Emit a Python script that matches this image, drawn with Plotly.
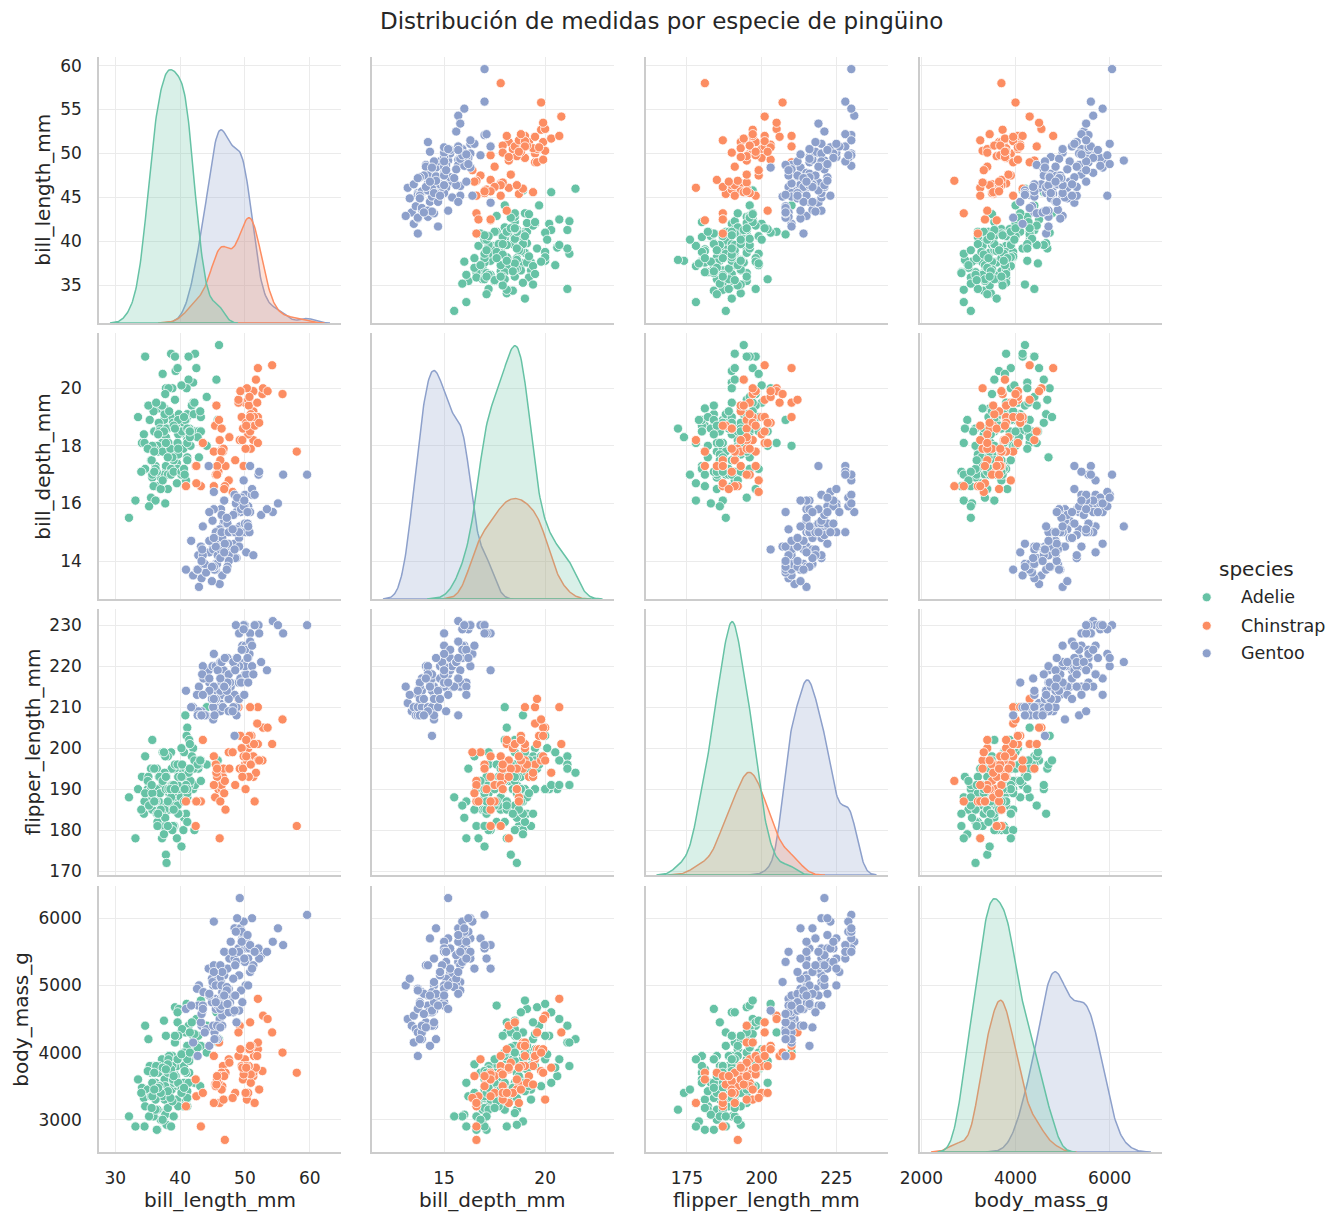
import numpy as np
import plotly.graph_objects as go

# ---------------- data (Palmer penguins, rows with complete measurements) ----------------
species = ["Adelie", "Chinstrap", "Gentoo"]
variables = ["bill_length_mm", "bill_depth_mm", "flipper_length_mm", "body_mass_g"]

adelie_bill_length = [
    39.1, 39.5, 40.3, 36.7, 39.3, 38.9, 39.2, 34.1, 42.0, 37.8, 37.8, 41.1, 38.6, 34.6, 36.6, 38.7, 42.5, 34.4, 46.0,
    37.8, 37.7, 35.9, 38.2, 38.8, 35.3, 40.6, 40.5, 37.9, 40.5,
    39.5, 37.2, 39.5, 40.9, 36.4, 39.2, 38.8, 42.2, 37.6, 39.8, 36.5, 40.8, 36.0, 44.1, 37.0, 39.6, 41.1, 37.5, 36.0, 42.3,
    39.6, 40.1, 35.0, 42.0, 34.5, 41.4, 39.0, 40.6, 36.5, 37.6, 35.7, 41.3, 37.6, 41.1, 36.4, 41.6, 35.5, 41.1,
    35.9, 41.8, 33.5, 39.7, 39.6, 45.8, 35.5, 42.8, 40.9, 37.2, 36.2, 42.1, 34.6, 42.9, 36.7, 35.1,
    37.3, 41.3, 36.3, 36.9, 38.3, 38.9, 35.7, 41.1, 34.0, 39.6, 36.2, 40.8, 38.1, 40.3, 33.1, 43.2,
    35.0, 41.0, 37.7, 37.8, 37.9, 39.7, 38.6, 38.2, 38.1, 43.2, 38.1, 45.6, 39.7, 42.2, 39.6, 42.7,
    38.6, 37.3, 35.7, 41.1, 36.2, 37.7, 40.2, 41.4, 35.2, 40.6, 38.8, 41.5, 39.0, 44.1, 38.5, 43.1,
    36.8, 37.5, 38.1, 41.1, 35.6, 40.2, 37.0, 39.7, 40.2, 40.6, 32.1, 40.7, 37.3, 39.0, 39.2, 36.6, 36.0, 37.8, 36.0, 41.5,
]
adelie_bill_depth = [
    18.7, 17.4, 18.0, 19.3, 20.6, 17.8, 19.6, 18.1, 20.2, 17.1, 17.3, 17.6, 21.2, 21.1, 17.8, 19.0, 20.7, 18.4, 21.5,
    18.3, 18.7, 19.2, 18.1, 17.2, 18.9, 18.6, 17.9, 18.6, 18.9,
    16.7, 18.1, 17.8, 18.9, 17.0, 21.1, 20.0, 18.5, 19.3, 19.1, 18.0, 18.4, 18.5, 19.7, 16.9, 18.8, 19.0, 18.9, 17.9, 21.2,
    17.7, 18.9, 17.9, 19.5, 18.1, 18.6, 17.5, 18.8, 16.6, 19.1, 16.9, 21.1, 17.0, 18.2, 17.1, 18.0, 16.2, 19.1,
    16.6, 19.4, 19.0, 18.4, 17.2, 18.9, 17.5, 18.5, 16.8, 19.4, 16.1, 19.1, 17.2, 17.6, 18.8, 19.4,
    17.8, 20.3, 19.5, 18.6, 19.2, 18.8, 18.0, 18.1, 17.1, 18.1, 17.3, 18.9, 18.6, 18.5, 16.1, 18.5,
    17.9, 20.0, 16.0, 20.0, 18.6, 18.9, 17.2, 20.0, 17.0, 19.0, 16.5, 20.3, 17.7, 19.5, 20.7, 18.3,
    17.0, 20.5, 17.0, 18.6, 17.2, 19.8, 17.0, 18.5, 15.9, 19.0, 17.6, 18.3, 17.1, 18.0, 17.9, 19.2,
    18.5, 18.5, 17.6, 17.5, 17.5, 20.1, 16.5, 17.9, 17.1, 17.2, 15.5, 17.0, 16.8, 18.7, 18.6, 18.4, 17.8, 18.1, 17.1, 18.5,
]
adelie_flipper_length = [
    181, 186, 195, 193, 190, 181, 195, 193, 190, 186, 180, 182, 191, 198, 185, 195, 197, 184, 194,
    174, 180, 189, 185, 180, 187, 183, 187, 172, 180,
    178, 178, 188, 184, 195, 196, 190, 180, 181, 184, 182, 195, 186, 196, 185, 190, 182, 179, 190, 191,
    186, 188, 190, 200, 187, 191, 186, 193, 181, 194, 185, 195, 185, 192, 184, 192, 195, 188,
    190, 198, 190, 190, 196, 197, 190, 195, 191, 184, 187, 195, 189, 196, 187, 193,
    191, 194, 190, 189, 189, 190, 202, 205, 185, 186, 187, 208, 190, 196, 178, 192,
    192, 203, 183, 190, 193, 184, 199, 190, 181, 197, 198, 191, 193, 197, 191, 196,
    188, 199, 189, 189, 187, 198, 176, 202, 186, 199, 191, 195, 191, 210, 190, 197,
    193, 199, 187, 190, 191, 200, 185, 193, 193, 187, 188, 190, 192, 185, 190, 184, 195, 193, 187, 201,
]
adelie_body_mass = [
    3750, 3800, 3250, 3450, 3650, 3625, 4675, 3475, 4250, 3300, 3700, 3200, 3800, 4400, 3700, 3450, 4500, 3325, 4200,
    3400, 3600, 3800, 3950, 3800, 3800, 3550, 3200, 3150, 3950,
    3250, 3900, 3300, 3900, 3325, 4150, 3950, 3550, 3300, 4650, 3150, 3900, 3100, 4400, 3000, 4600, 3425, 2975, 3450, 4150,
    3500, 4300, 3450, 4050, 2900, 3700, 3550, 3800, 2850, 3750, 3150, 4400, 3600, 4050, 2850, 3950, 3350, 4100,
    3050, 4450, 3600, 3900, 3550, 4150, 3700, 4250, 3700, 3900, 3550, 4000, 3200, 4700, 3800, 4200,
    3350, 3550, 3800, 3500, 3950, 3600, 3550, 4300, 3400, 4450, 3300, 4300, 3700, 4350, 2900, 4100,
    3725, 4725, 3075, 4250, 2925, 3550, 3750, 3900, 3175, 4775, 3825, 4600, 3200, 4275, 3900, 4075,
    2900, 3775, 3350, 3325, 3150, 3500, 3450, 3875, 3050, 4000, 3275, 4300, 3050, 4000, 3325, 3500,
    3500, 4475, 3425, 3900, 3175, 3975, 3400, 4250, 3400, 3475, 3050, 3725, 3000, 3650, 4250, 3475, 3450, 3750, 3700, 4000,
]

chinstrap_bill_length = [
    46.5, 50.0, 51.3, 45.4, 52.7, 45.2, 46.1, 51.3, 46.0, 51.3, 46.6, 51.7, 47.0, 52.0, 45.9, 50.5, 50.3, 58.0, 46.4, 49.2,
    42.4, 48.5, 43.2, 50.6, 46.7, 52.0, 50.5, 49.5, 46.4, 52.8, 40.9, 54.2, 42.5, 51.0, 49.7, 47.5, 47.6, 52.0, 46.9, 53.5,
    49.0, 46.2, 50.9, 45.5, 50.9, 50.8, 50.1, 49.0, 51.5, 49.8, 48.1, 51.4, 45.7, 50.7, 42.5, 52.2, 45.2, 49.3, 50.2, 45.6,
    51.9, 46.8, 45.7, 55.8, 43.5, 49.6, 50.8, 50.2,
]
chinstrap_bill_depth = [
    17.9, 19.5, 19.2, 18.7, 19.8, 17.8, 18.2, 18.2, 18.9, 19.9, 17.8, 20.3, 17.3, 18.1, 17.1, 19.6, 20.0, 17.8, 18.6, 18.2,
    17.3, 17.5, 16.6, 19.4, 17.9, 19.0, 18.4, 19.0, 17.8, 20.0, 16.6, 20.8, 16.7, 18.8, 18.6, 16.8, 18.3, 20.7, 16.6, 19.9,
    19.5, 17.5, 19.1, 17.0, 17.9, 18.5, 17.9, 19.6, 18.7, 17.3, 16.4, 19.0, 17.3, 19.7, 17.3, 18.8, 16.6, 19.9, 18.8, 19.4,
    19.5, 16.5, 17.0, 19.8, 18.1, 18.2, 19.0, 18.7,
]
chinstrap_flipper_length = [
    192, 196, 193, 188, 197, 198, 178, 197, 195, 198, 193, 194, 185, 201, 190, 201, 197, 181, 190, 195,
    181, 191, 187, 193, 195, 197, 200, 200, 191, 205, 187, 201, 187, 203, 195, 199, 195, 210, 192, 205,
    210, 187, 196, 196, 196, 201, 190, 212, 187, 198, 199, 201, 193, 203, 187, 197, 191, 203, 202, 194,
    206, 189, 195, 207, 202, 193, 210, 198,
]
chinstrap_body_mass = [
    3500, 3900, 3650, 3525, 3725, 3950, 3250, 3750, 4150, 3700, 3800, 3775, 3700, 4050, 3575, 4050, 3300, 3700, 3450, 4400,
    3600, 3400, 2900, 3800, 3300, 4150, 3400, 3800, 3700, 4550, 3200, 4300, 3350, 4100, 3600, 3900, 3850, 4800, 2700, 4500,
    3950, 3650, 3550, 3500, 3675, 4450, 3400, 4300, 3250, 3675, 3325, 3950, 3600, 4050, 3350, 3450, 3250, 4050, 3800, 3525,
    3950, 3650, 3650, 4000, 3400, 3775, 4100, 3775,
]

gentoo_bill_length = [
    46.1, 50.0, 48.7, 50.0, 47.6, 46.5, 45.4, 46.7, 43.3, 46.8, 40.9, 49.0, 45.5, 48.4, 45.8, 49.3, 42.0, 49.2, 46.2, 48.7,
    50.2, 45.1, 46.5, 46.3, 42.9, 46.1, 44.5, 47.8, 48.2, 50.0, 47.3, 42.8, 45.1, 59.6, 49.1, 48.4, 42.6, 44.4, 44.0, 48.7,
    42.7, 49.6, 45.3, 49.6, 50.5, 43.6, 45.5, 50.5, 44.9, 45.2, 46.6, 48.5, 45.1, 50.1, 46.5, 45.0, 43.8, 45.5, 43.2, 50.4,
    45.3, 46.2, 45.7, 54.3, 45.8, 49.8, 46.2, 49.5, 43.5, 50.7, 47.7, 46.4, 48.2, 46.5, 46.4, 48.6, 47.5, 51.1, 45.2, 45.2,
    49.1, 52.5, 47.4, 50.0, 44.9, 50.8, 43.4, 51.3, 47.5, 52.1, 47.5, 52.2, 45.5, 49.5, 44.5, 50.8, 49.4, 46.9, 48.4, 51.1,
    48.5, 55.9, 47.2, 49.1, 47.3, 46.8, 41.7, 53.4, 43.3, 48.1, 50.5, 49.8, 43.5, 51.5, 46.2, 55.1, 44.5, 48.8, 47.2, 46.8,
    50.4, 45.2, 49.9,
]
gentoo_bill_depth = [
    13.2, 16.3, 14.1, 15.2, 14.5, 13.5, 14.6, 15.3, 13.4, 15.4, 13.7, 16.1, 13.7, 14.6, 14.6, 15.7, 13.5, 15.2, 14.5, 15.1,
    14.3, 14.5, 14.5, 15.8, 13.1, 15.1, 14.3, 15.0, 14.3, 15.3, 15.3, 14.2, 14.5, 17.0, 14.8, 16.3, 13.7, 17.3, 13.6, 15.7,
    13.7, 16.0, 13.7, 15.0, 15.9, 13.9, 13.9, 15.9, 13.3, 15.8, 14.2, 14.1, 14.4, 15.0, 14.4, 15.4, 13.9, 15.0, 14.5, 15.3,
    13.8, 14.9, 13.9, 15.7, 14.2, 16.8, 14.4, 16.2, 14.2, 15.0, 15.0, 15.6, 15.6, 14.8, 15.0, 16.0, 14.2, 16.3, 13.8, 16.4,
    14.5, 15.6, 14.6, 15.9, 13.8, 17.3, 14.4, 14.2, 14.0, 17.0, 15.0, 17.1, 14.5, 16.1, 14.7, 15.7, 15.8, 14.6, 14.4, 16.5,
    15.0, 17.0, 15.5, 15.0, 13.8, 16.1, 14.7, 15.8, 14.0, 15.1, 15.2, 15.9, 15.2, 16.3, 14.1, 16.0, 15.7, 16.2, 13.7, 14.3,
    15.7, 14.8, 16.1,
]
gentoo_flipper_length = [
    211, 230, 210, 218, 215, 210, 211, 219, 209, 215, 214, 216, 214, 213, 210, 217, 210, 221, 209, 222,
    218, 215, 213, 215, 215, 215, 216, 215, 210, 220, 222, 209, 207, 230, 220, 220, 213, 219, 208, 208,
    208, 225, 210, 216, 222, 217, 210, 225, 213, 215, 210, 220, 210, 225, 217, 220, 208, 220, 208, 224,
    208, 221, 214, 231, 219, 230, 214, 229, 220, 223, 216, 221, 221, 217, 216, 230, 209, 220, 215, 223,
    212, 221, 212, 224, 212, 228, 218, 218, 212, 230, 218, 228, 212, 224, 214, 226, 216, 222, 203, 225,
    219, 228, 215, 228, 216, 215, 210, 219, 208, 209, 216, 229, 213, 230, 217, 230, 217, 222, 214, 215,
    222, 212, 213,
]
gentoo_body_mass = [
    4500, 5700, 4450, 5700, 5400, 4550, 4800, 5200, 4400, 5150, 4650, 5550, 4650, 5850, 4200, 5850, 4150, 6300, 4800, 5350,
    5700, 5000, 4400, 5050, 5000, 5100, 4100, 5650, 4600, 5550, 5250, 4700, 5050, 6050, 5150, 5400, 4950, 5250, 4350, 5350,
    3950, 5700, 4300, 4750, 5550, 4900, 4200, 5400, 5100, 5300, 4850, 5300, 4400, 5000, 4900, 5050, 4300, 5000, 4450, 5550,
    4200, 5300, 4400, 5650, 4700, 5700, 4650, 5800, 4700, 5550, 4750, 5000, 5100, 5200, 4700, 5800, 4600, 6000, 4750, 5950,
    4625, 5450, 4725, 5350, 4750, 5600, 4600, 5300, 4875, 5550, 4950, 5400, 4750, 5650, 4850, 5200, 4925, 4875, 4625, 5250,
    4850, 5600, 4975, 5500, 4725, 5500, 4700, 5500, 4575, 5500, 5000, 5950, 4650, 5500, 4375, 5850, 4875, 6000, 4925, 4850,
    5750, 5200, 5400,
]

# tick labels
x_ticks = [[30, 40, 50, 60], [15, 20], [175, 200, 225], [2000, 4000, 6000]]
y_ticks = [[35, 40, 45, 50, 55, 60], [14, 16, 18, 20], [170, 180, 190, 200, 210, 220, 230], [3000, 4000, 5000, 6000]]

# ---------------- assemble ----------------
data = {
    "Adelie": [adelie_bill_length, adelie_bill_depth, adelie_flipper_length, adelie_body_mass],
    "Chinstrap": [chinstrap_bill_length, chinstrap_bill_depth, chinstrap_flipper_length, chinstrap_body_mass],
    "Gentoo": [gentoo_bill_length, gentoo_bill_depth, gentoo_flipper_length, gentoo_body_mass],
}
for sp in species:
    lens = {len(a) for a in data[sp]}
    assert len(lens) == 1, (sp, [len(a) for a in data[sp]])

colors = {"Adelie": "#66c2a5", "Chinstrap": "#fc8d62", "Gentoo": "#8da0cb"}
fills = {"Adelie": "rgba(102,194,165,0.25)", "Chinstrap": "rgba(252,141,98,0.25)", "Gentoo": "rgba(141,160,203,0.25)"}

W, H = 1340, 1225
col_px = [(99, 341), (372, 613.5), (645.5, 887.5), (920, 1162)]
row_px = [(57, 323), (333, 599), (609, 875), (886, 1152)]
ylabel_x = [42.8, 42.8, 33.3, 20.8]
TXT = "#262626"
FONT = "DejaVu Sans"

n_total = sum(len(data[sp][0]) for sp in species)


def kde(vals):
    v = np.asarray(vals, dtype=float)
    n = len(v)
    bw = n ** (-1 / 5) * v.std(ddof=1)
    grid = np.linspace(v.min() - 3 * bw, v.max() + 3 * bw, 200)
    dens = np.exp(-0.5 * ((grid[:, None] - v[None, :]) / bw) ** 2).sum(1) / (n * bw * np.sqrt(2 * np.pi))
    return grid, dens * n / n_total


kdes = {(sp, i): kde(data[sp][i]) for sp in species for i in range(4)}

col_ranges, row_ranges, kde_max = [], [], []
for i in range(4):
    allv = np.concatenate([np.asarray(data[sp][i], float) for sp in species])
    lo, hi = allv.min(), allv.max()
    span = hi - lo
    row_ranges.append([lo - 0.05 * span, hi + 0.05 * span])
    klo = min(lo, min(kdes[(sp, i)][0][0] for sp in species))
    khi = max(hi, max(kdes[(sp, i)][0][-1] for sp in species))
    kspan = khi - klo
    col_ranges.append([klo - 0.05 * kspan, khi + 0.05 * kspan])
    kde_max.append(max(kdes[(sp, i)][1].max() for sp in species))

fig = go.Figure()
layout = dict(
    template="none",
    width=W, height=H, margin=dict(l=0, r=0, t=0, b=0, pad=0, autoexpand=False),
    plot_bgcolor="white", paper_bgcolor="white", showlegend=False,
    font=dict(family=FONT, color=TXT),
)


def aname(prefix, k):
    return prefix if k == 1 else f"{prefix}{k}"


for r in range(4):
    for c in range(4):
        k = r * 4 + c + 1
        x0, x1 = col_px[c]
        y0, y1 = row_px[r]
        common = dict(
            showgrid=True, gridcolor="#ebebeb", gridwidth=1.3,
            showline=True, linecolor="#cccccc", linewidth=1.6, mirror=False,
            zeroline=False, ticks="", automargin=False,
            tickfont=dict(size=17, color=TXT, family=FONT),
        )
        layout[aname("xaxis", k)] = dict(
            domain=[x0 / W, x1 / W], anchor=aname("y", k), range=col_ranges[c],
            tickvals=x_ticks[c], ticktext=[str(t) for t in x_ticks[c]],
            showticklabels=(r == 3), ticklabelstandoff=10, **common,
        )
        if r == c:
            # diagonal: the y axis carries the density scale; the row's grid/tick positions are mapped onto it
            top = 1.05 * kde_max[c]
            lo, hi = row_ranges[r]
            mapped = [(t - lo) / (hi - lo) * top for t in y_ticks[r]]
            yrange, yvals = [0, top], mapped
        else:
            yrange, yvals = row_ranges[r], y_ticks[r]
        layout[aname("yaxis", k)] = dict(
            domain=[1 - y1 / H, 1 - y0 / H], anchor=aname("x", k), range=yrange,
            tickvals=yvals, ticktext=[str(t) for t in y_ticks[r]],
            showticklabels=(c == 0), ticklabelstandoff=12, **common,
        )
        if r == c:
            for sp in reversed(species):
                g, d = kdes[(sp, c)]
                px_ = np.concatenate([[g[0]], g, [g[-1], g[0]]])
                py_ = np.concatenate([[0.0], d, [0.0, 0.0]])
                fig.add_trace(go.Scatter(
                    x=px_, y=py_, mode="lines", fill="toself", fillcolor=fills[sp],
                    line=dict(color=colors[sp], width=1.5), name=sp, hoverinfo="skip",
                    xaxis=aname("x", k), yaxis=aname("y", k),
                ))
        else:
            for sp in species:
                fig.add_trace(go.Scatter(
                    x=data[sp][c], y=data[sp][r], mode="markers", name=sp,
                    marker=dict(color=colors[sp], size=9.2, line=dict(color="white", width=0.8)),
                    xaxis=aname("x", k), yaxis=aname("y", k),
                ))

annotations = []
shapes = []
# title
annotations.append(dict(
    text="Distribución de medidas por especie de pingüino", x=661 / W, y=1 - 21.5 / H,
    xref="paper", yref="paper", xanchor="center", yanchor="middle", showarrow=False,
    font=dict(size=23, color=TXT, family=FONT),
))
# axis titles
for c in range(4):
    annotations.append(dict(
        text=variables[c], x=(col_px[c][0] + col_px[c][1]) / 2 / W, y=1 - 1200 / H,
        xref="paper", yref="paper", xanchor="center", yanchor="middle", showarrow=False,
        font=dict(size=20, color=TXT, family=FONT),
    ))
for r in range(4):
    annotations.append(dict(
        text=variables[r], x=ylabel_x[r] / W, y=1 - (row_px[r][0] + row_px[r][1]) / 2 / H,
        xref="paper", yref="paper", xanchor="center", yanchor="middle", showarrow=False,
        textangle=-90, font=dict(size=20, color=TXT, family=FONT),
    ))
# legend
annotations.append(dict(
    text="species", x=1256 / W, y=1 - 569 / H, xref="paper", yref="paper",
    xanchor="center", yanchor="middle", showarrow=False, font=dict(size=20, color=TXT, family=FONT),
))
leg_y = [597.3, 625.7, 653.3]
for sp, ly in zip(species, leg_y):
    annotations.append(dict(
        text=sp, x=1239 / W, y=1 - ly / H, xref="paper", yref="paper",
        xanchor="left", yanchor="middle", showarrow=False, font=dict(size=17.5, color=TXT, family=FONT),
    ))
    shapes.append(dict(
        type="circle", xref="paper", yref="paper", xsizemode="pixel", ysizemode="pixel",
        xanchor=1206.7 / W, yanchor=1 - ly / H, x0=-4.5, x1=4.5, y0=-4.5, y1=4.5,
        fillcolor=colors[sp], line=dict(color="white", width=0.8),
    ))

layout["annotations"] = annotations
layout["shapes"] = shapes
fig.update_layout(**layout)
fig.write_html("out.html")
